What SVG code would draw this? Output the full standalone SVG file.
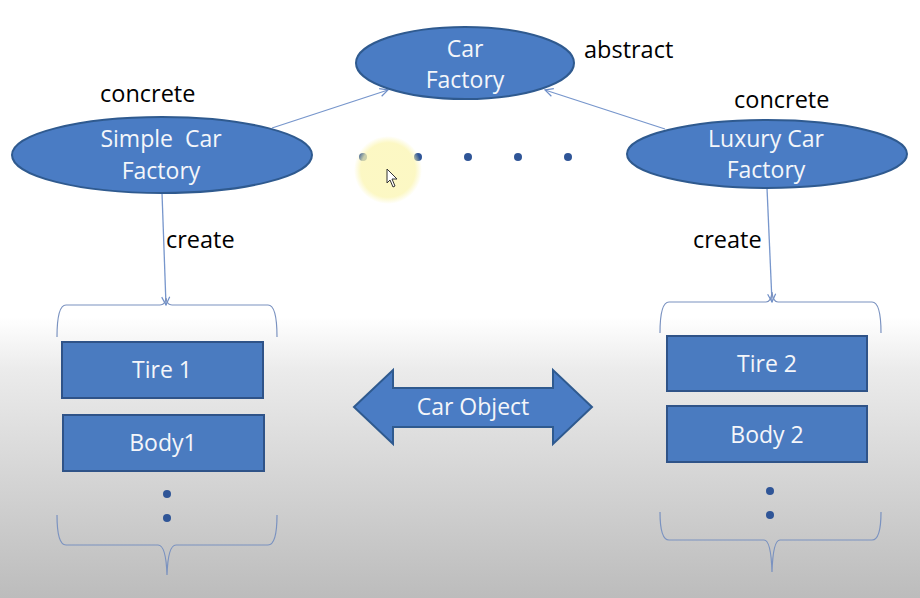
<svg xmlns="http://www.w3.org/2000/svg" width="920" height="598" viewBox="0 0 920 598">
<defs>
<linearGradient id="bg" x1="0" y1="0" x2="0" y2="1">
<stop offset="0" stop-color="#ffffff"/>
<stop offset="0.53" stop-color="#ffffff"/>
<stop offset="0.62" stop-color="#ebebeb"/>
<stop offset="1" stop-color="#bcbcbc"/>
</linearGradient>
<radialGradient id="glow">
<stop offset="0" stop-color="#fbf5b0"/>
<stop offset="0.8" stop-color="#fbf5b0"/>
<stop offset="1" stop-color="#fbf5b0" stop-opacity="0"/>
</radialGradient>
<marker id="open" viewBox="0 0 10 10" refX="9" refY="5" markerWidth="10" markerHeight="10" markerUnits="userSpaceOnUse" orient="auto">
<path d="M1,1 L9,5 L1,9" fill="none" stroke="#6f8fc8" stroke-width="1.2"/>
</marker>
</defs>
<style>
.node{fill:#4A7CC4;stroke:#2F5A8F;stroke-width:2}
.box{fill:#4A7BC0;stroke:#2F5388;stroke-width:2}
.wt{fill:#f4f6fa;font-family:"Open Sans","Liberation Sans",sans-serif;font-size:23px;text-anchor:middle}
.lbl{fill:#000000;font-family:"Open Sans","Liberation Sans",sans-serif;font-size:23.5px}
.conn{fill:none;stroke:#7796cc;stroke-width:1.3}
.brace{fill:none;stroke:#7a92c0;stroke-width:1.2}
.dot{fill:#2F5597}
</style>
<rect x="0" y="0" width="920" height="598" fill="url(#bg)"/>

<g id="connectors">
<line class="conn" x1="272" y1="128" x2="388" y2="90" marker-end="url(#open)"/>
<line class="conn" x1="665" y1="129" x2="545" y2="90" marker-end="url(#open)"/>
<line class="conn" x1="162" y1="193" x2="166" y2="305" marker-end="url(#open)"/>
<line class="conn" x1="767" y1="188" x2="772" y2="302" marker-end="url(#open)"/>
</g>

<g id="car-factory">
<ellipse class="node" cx="465" cy="63" rx="109" ry="36"/>
<text class="wt" x="465" y="57">Car</text>
<text class="wt" x="465" y="88">Factory</text>
</g>
<text class="lbl" x="584" y="58">abstract</text>

<g id="simple-car-factory">
<ellipse class="node" cx="162" cy="155" rx="150" ry="38"/>
<text class="wt" x="161" y="147" xml:space="preserve">Simple  Car</text>
<text class="wt" x="161" y="179">Factory</text>
</g>
<text class="lbl" x="100" y="102">concrete</text>
<text class="lbl" x="166" y="248">create</text>

<g id="luxury-car-factory">
<ellipse class="node" cx="767" cy="154" rx="140" ry="34"/>
<text class="wt" x="766" y="147">Luxury Car</text>
<text class="wt" x="766" y="178">Factory</text>
</g>
<text class="lbl" x="734" y="108">concrete</text>
<text class="lbl" x="693" y="248">create</text>

<g id="middle-dots">
<circle cx="363" cy="157" r="4" class="dot"/>
<circle cx="418" cy="157" r="4" class="dot"/>
<circle cx="468" cy="157" r="4" class="dot"/>
<circle cx="518" cy="157" r="4" class="dot"/>
<circle cx="568" cy="157" r="4" class="dot"/>
</g>
<g id="cursor">
<circle cx="388" cy="170" r="34" fill="url(#glow)" opacity="0.75"/>
<path d="M387,169 L387,183 L390,180 L393,187 L395,186 L392,179 L397,179 Z" fill="#ffffff" stroke="#333333" stroke-width="1"/>
</g>

<g id="left-group">
<path class="brace" d="M57,337 Q57,305 66,305 L160,305 Q165,305 166,298 Q167,305 172,305 L268,305 Q277,305 277,337"/>
<rect class="box" x="62" y="342" width="201" height="56"/>
<text class="wt" x="162" y="378">Tire 1</text>
<rect class="box" x="63" y="415" width="201" height="56"/>
<text class="wt" x="163" y="451">Body1</text>
<circle cx="167" cy="494" r="4" class="dot"/>
<circle cx="167" cy="518" r="4" class="dot"/>
<path class="brace" d="M57,515 Q57,545 66,545 L158,545 Q166,545 167,575 Q168,545 176,545 L268,545 Q277,545 277,515"/>
</g>

<g id="right-group">
<path class="brace" d="M660,333 Q660,302 669,302 L766,302 Q771,302 772,292 Q773,302 778,302 L872,302 Q881,302 881,333"/>
<rect class="box" x="667" y="336" width="200" height="55"/>
<text class="wt" x="767" y="372">Tire 2</text>
<rect class="box" x="667" y="406" width="200" height="56"/>
<text class="wt" x="767" y="443">Body 2</text>
<circle cx="770" cy="491" r="4" class="dot"/>
<circle cx="770" cy="515" r="4" class="dot"/>
<path class="brace" d="M660,512 Q660,540 669,540 L764,540 Q771,540 772,572 Q773,540 780,540 L872,540 Q881,540 881,512"/>
</g>

<g id="car-object">
<path class="node" d="M354,407 L393,370 L393,388 L553,388 L553,370 L592,407 L553,444 L553,427 L393,427 L393,444 Z"/>
<text class="wt" x="473" y="415">Car Object</text>
</g>
</svg>
